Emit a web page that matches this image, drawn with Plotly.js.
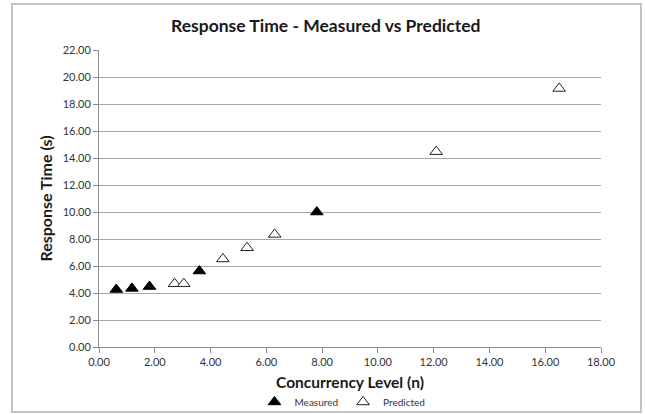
<!DOCTYPE html>
<html>
<head>
<meta charset="utf-8">
<script src="https://cdn.plot.ly/plotly-3.0.1.min.js"></script>
<style>
html,body{margin:0;padding:0;background:#fff;}
#wrap{position:relative;width:645px;height:414px;}
#chart{position:absolute;left:0;top:0;width:645px;height:414px;}
#frame{position:absolute;left:11px;top:3px;width:627px;height:406px;border:2px solid #c4c4c4;pointer-events:none;}
</style>
</head>
<body>
<div id="wrap"><div id="chart"></div><div id="frame"></div></div>
<script>
const measuredX = [0.62, 1.18, 1.81, 3.60, 7.81];
const measuredY = [4.26, 4.34, 4.48, 5.63, 10.00];
const predictedX = [2.71, 3.04, 4.44, 5.31, 6.30, 12.09, 16.50];
const predictedY = [4.69, 4.69, 6.52, 7.35, 8.34, 14.47, 19.15];
const xTicks = [0, 2, 4, 6, 8, 10, 12, 14, 16, 18];
const yTicks = [0, 2, 4, 6, 8, 10, 12, 14, 16, 18, 20, 22];
const fmt = v => v.toFixed(2);

const FONT = 'Lato, "Open Sans", sans-serif';

const traces = [
  {
    type: 'scatter', mode: 'markers', name: 'Measured',
    x: measuredX, y: measuredY,
    marker: {symbol: 'triangle-up', size: 11, color: '#000', line: {color: '#000', width: 1}}
  },
  {
    type: 'scatter', mode: 'markers', name: 'Predicted',
    x: predictedX, y: predictedY,
    marker: {symbol: 'triangle-up', size: 11, color: '#fff', line: {color: '#222', width: 1}}
  }
];

const layout = {
  width: 645, height: 414,
  margin: {l: 99, r: 44, t: 50, b: 67, autoexpand: false},
  paper_bgcolor: '#fff', plot_bgcolor: '#fff',
  font: {family: FONT, color: '#333'},
  title: {text: '<b>Response Time - Measured vs Predicted</b>', x: 0.505, xanchor: 'center', y: 0.938, yanchor: 'middle',
          font: {family: FONT, size: 17.5, color: '#1a1a1a'}},
  xaxis: {
    range: [0, 18], tickvals: xTicks, ticktext: xTicks.map(fmt),
    showgrid: false, zeroline: false, automargin: false,
    showline: true, linecolor: '#8c8c8c', linewidth: 1,
    ticks: 'outside', ticklen: 5, tickcolor: '#8c8c8c',
    tickfont: {family: FONT, size: 11, color: '#333'},
    title: {text: '<b>Concurrency Level (n)</b>', standoff: 9, font: {family: FONT, size: 15.5, color: '#1a1a1a'}}
  },
  yaxis: {
    range: [0, 22], tickvals: yTicks, ticktext: yTicks.map(fmt),
    showgrid: true, gridcolor: '#a8a8a8', gridwidth: 1, zeroline: false, automargin: false,
    showline: true, linecolor: '#8c8c8c', linewidth: 1,
    ticks: 'outside', ticklen: 5, tickcolor: '#8c8c8c',
    tickfont: {family: FONT, size: 11, color: '#333'},
    title: {text: '<b>Response Time (s)</b>', standoff: 6, font: {family: FONT, size: 16, color: '#1a1a1a'}}
  },
  showlegend: true,
  legend: {orientation: 'h', x: 0.485, xanchor: 'center', y: -0.185, yanchor: 'middle',
           font: {family: FONT, size: 10, color: '#333'}, itemwidth: 30, bgcolor: 'rgba(0,0,0,0)'}
};

Plotly.newPlot('chart', traces, layout, {displayModeBar: false, staticPlot: true});
</script>
</body>
</html>
